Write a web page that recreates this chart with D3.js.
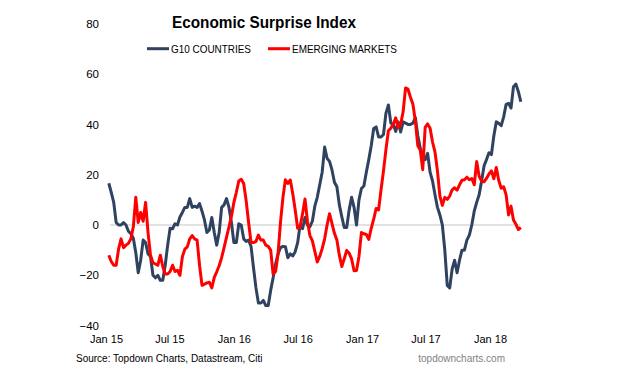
<!DOCTYPE html>
<html>
<head>
<meta charset="utf-8">
<script src="https://cdn.jsdelivr.net/npm/d3@7"></script>
<style>
  body { margin: 0; background: #fff; }
  svg { display: block; font-family: "Liberation Sans", Arial, sans-serif; }
</style>
</head>
<body>
<svg id="chart" width="619" height="374"></svg>
<script>
// weekly readings, first one on 9 Jan 2015
var startDate = new Date(2015, 0, 9);

var g10 = [16.6, 13, 9, 1, 0, 0, 1, 0, -2.5, -3.5, -5.3, -11, -19, -14, -6, -7, -11.5, -12.5, -20, -21,
  -20, -22, -22, -16, -8, -1.3, -1.5, 0.5, 0, 3.2, 5, 7, 7, 10.5, 7, 7.5, 7, 8.5, 5.5, 2,
  -3, -2, 3, -3, -8, -3, 7, 8, 10.5, 7, 1, -7, -7, 0.5, 0, -5.5, -6.5, -6, -8.5, -17,
  -25, -31, -31, -30, -32, -32, -26, -21, -15.5, -11.5, -9, -8.5, -8.6, -13, -11.5, -12.3, -10.6, -7, 0, -1.5,
  3, 0, -0.7, 1.5, 7.5, 11, 16, 21, 31, 26.5, 25.3, 21.9, 17, 15.2, 8, 3.3, -1, -1, 6, 11,
  7, 0, 10, 14.5, 15.5, 21, 26, 31.5, 38.4, 39, 35, 35, 36, 44.5, 47.7, 40.5, 40, 37.2, 41, 37,
  41, 40.5, 40, 40, 40.5, 42.7, 35.5, 30.5, 28, 26, 28.5, 21, 17.5, 12, 7, 4, 0, -10, -24, -25,
  -17.5, -14, -19, -14, -10, -10, -6, -4, 0, 5.5, 9, 12, 17.5, 23.5, 26, 28.7, 28, 35.5, 41, 40.4,
  39.5, 43, 48, 48.4, 46.5, 55, 56, 53, 49];

var em = [-12, -14.5, -16, -16, -9.5, -5.5, -9, -8, -7.3, -5.5, -0.7, 11, 1, 5, 1.5, 9, -3, -12, -15, -15.5,
  -16, -12, -16.5, -19.5, -19.5, -18.5, -16, -18.5, -18, -20, -12.6, -9.6, -8.7, -5.5, -4.2, -5.5, -6, -16, -24, -23.5,
  -23, -22.8, -25, -20.8, -18.6, -16.2, -13, -9, -4.8, -0.8, 3.5, 9, 13, 17.5, 18.2, 16.5, 9.7, 1, -7, -7,
  -6.5, -4, -6, -6, -8, -8.5, -10, -19.5, -18.5, -11.5, 1, 11, 18, 16.5, 17.9, 12.5, 6, -1.3, -0.7, 4.5,
  10.3, 1.5, -4.2, -6.3, -10.5, -14.7, -12.5, -9.4, -5.5, 0, 4.5, 0.6, -3.3, -6, -12, -16.5, -13.4, -10.1, -11.2, -13.5,
  -18.2, -18.1, -12.5, -3, -3.5, -3.8, -5.7, -1.3, 2.3, 6.6, 6, 14, 21.5, 30, 37.5, 38.5, 40, 42.6, 38.7, 40,
  45, 54.5, 54, 50.8, 48, 41.3, 31.5, 29.8, 22, 38.8, 40.2, 38.5, 33, 29, 21.5, 11.5, 7.8, 11, 10.2, 11.5,
  14, 14.8, 13.9, 16, 17.8, 18, 19, 18, 18.5, 16, 25.2, 19.4, 17.5, 17.2, 18.5, 20.3, 21.5, 18.4, 22.9, 17.7,
  14.6, 15.2, 12, 4, 7.5, 2, 0.3, -1.8, -1];

var seriesNames = ["G10 COUNTRIES", "EMERGING MARKETS"];
var seriesColors = ["#2f4360", "#ff0000"];
var yTicks = [-40, -20, 0, 20, 40, 60, 80];
var xTicks = [new Date(2015, 0, 1), new Date(2015, 6, 1), new Date(2016, 0, 1), new Date(2016, 6, 1),
  new Date(2017, 0, 1), new Date(2017, 6, 1), new Date(2018, 0, 1)];

var svg = d3.select("#chart");

var x = d3.scaleTime()
  .domain([new Date(2015, 0, 1), new Date(2018, 0, 1)])
  .range([106, 490]);
var y = d3.scaleLinear().domain([-40, 80]).range([325.6, 23.8]);

function toPoints(vals) {
  return vals.map(function(v, i) {
    return { date: d3.timeDay.offset(startDate, 7 * i), value: v };
  });
}

// title
svg.append("text")
  .attr("x", 264).attr("y", 27.5)
  .attr("text-anchor", "middle")
  .attr("font-size", 17).attr("font-weight", "bold")
  .attr("textLength", 184).attr("lengthAdjust", "spacingAndGlyphs")
  .text("Economic Surprise Index");

// legend
var legendX = [147, 268];
var legendW = [80, 105];
seriesNames.forEach(function(name, i) {
  svg.append("line")
    .attr("x1", legendX[i]).attr("x2", legendX[i] + 22)
    .attr("y1", 48.7).attr("y2", 48.7)
    .attr("stroke", seriesColors[i]).attr("stroke-width", 3);
  svg.append("text")
    .attr("x", legendX[i] + 24).attr("y", 52.7)
    .attr("font-size", 11.5)
    .attr("textLength", legendW[i]).attr("lengthAdjust", "spacingAndGlyphs")
    .text(name);
});

// y axis
var yAxis = svg.append("g")
  .attr("transform", "translate(102,0)")
  .call(d3.axisLeft(y).tickValues(yTicks).tickSize(0).tickPadding(3).tickFormat(d3.format("d")));
yAxis.select(".domain").remove();
yAxis.selectAll("text").attr("font-size", 11.5).attr("fill", "#000")
  .style("font-family", "'Liberation Sans', Arial, sans-serif");

// x axis
var xAxis = svg.append("g")
  .attr("transform", "translate(0,331)")
  .call(d3.axisBottom(x).tickValues(xTicks).tickSize(0).tickPadding(4).tickFormat(d3.timeFormat("%b %y")));
xAxis.select(".domain").remove();
xAxis.selectAll("text").attr("font-size", 11).attr("fill", "#000")
  .style("font-family", "'Liberation Sans', Arial, sans-serif");

// zero line
svg.append("line")
  .attr("x1", 110).attr("x2", 520)
  .attr("y1", y(0)).attr("y2", y(0))
  .attr("stroke", "#d9d9d9").attr("stroke-width", 1.5);

var line = d3.line()
  .x(function(d) { return x(d.date); })
  .y(function(d) { return y(d.value); });

[g10, em].forEach(function(vals, i) {
  svg.append("path")
    .datum(toPoints(vals))
    .attr("fill", "none")
    .attr("stroke", seriesColors[i])
    .attr("stroke-width", 3)
    .attr("stroke-linejoin", "round")
    .attr("d", line);
});

// footer
svg.append("text")
  .attr("x", 76).attr("y", 361.5)
  .attr("font-size", 10)
  .text("Source: Topdown Charts, Datastream, Citi");
svg.append("text")
  .attr("x", 505).attr("y", 361.5)
  .attr("text-anchor", "end")
  .attr("font-size", 10).attr("fill", "#7f7f7f")
  .text("topdowncharts.com");
</script>
</body>
</html>
